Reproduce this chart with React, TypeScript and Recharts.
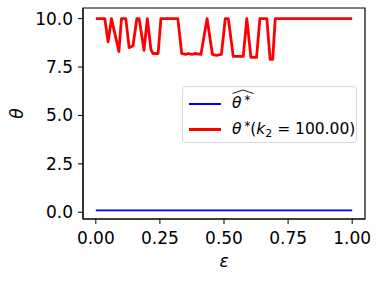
import React from "react";
import { LineChart, Line, XAxis, YAxis, ReferenceArea, Label } from "recharts";

// epsilon grid and estimated theta* values (k2 = 100)
const redEps = [
  0, 0.035, 0.048, 0.061, 0.09, 0.1, 0.117, 0.13, 0.145, 0.16, 0.169, 0.188, 0.201, 0.215, 0.223,
  0.243, 0.254, 0.32, 0.335, 0.35, 0.36, 0.375, 0.385, 0.41, 0.434, 0.455, 0.47, 0.49, 0.505,
  0.517, 0.536, 0.575, 0.589, 0.605, 0.627, 0.64, 0.667, 0.68, 0.69, 0.7, 1,
];
const redTheta = [
  10, 10, 8.8, 10, 8.3, 10, 10, 8.5, 8.6, 10, 10, 8.36, 10, 8.4, 8.2,
  8.2, 10, 10, 8.2, 8.15, 8.2, 8.15, 8.2, 8.15, 10, 8.15, 8.1, 8.15, 10,
  10, 8.05, 8.05, 10, 8.0, 8.0, 10, 10, 7.9, 7.9, 10, 10,
];

// estimated theta hat
const blueEps = [0, 0.25, 0.5, 0.75, 1];
const blueTheta = [0.1, 0.1, 0.1, 0.1, 0.1];

const xTicks = [0, 0.25, 0.5, 0.75, 1];
const yTicks = [0, 2.5, 5, 7.5, 10];

const redData = redEps.map((eps, i) => ({ eps, theta: redTheta[i] }));
const blueData = blueEps.map((eps, i) => ({ eps, theta: blueTheta[i] }));

const FONT = "'DejaVu Sans', sans-serif";

const LegendBox = () => (
  <div
    style={{
      position: "absolute",
      left: 182,
      top: 86,
      width: 173,
      height: 55,
      border: "1px solid #d6d6d6",
      borderRadius: 4,
      background: "rgba(255,255,255,0.8)",
      fontFamily: FONT,
      fontSize: 15.5,
      color: "#000",
    }}
  >
    <div style={{ position: "absolute", left: 6, top: 16, width: 32, height: 2, background: "#0000ff" }} />
    <div style={{ position: "absolute", left: 49, top: 7, lineHeight: "18px", whiteSpace: "nowrap" }}>
      <span style={{ position: "relative", display: "inline-block" }}>
        <svg width={22} height={5} style={{ position: "absolute", left: 0, top: -5 }}>
          <path d="M0.5 4.5 L11 1 L21.5 4.5" stroke="#000" strokeWidth={0.9} fill="none" />
        </svg>
        <i>θ</i>
        <span style={{ fontSize: "0.75em", position: "relative", top: "-0.35em", marginLeft: 3 }}>*</span>
      </span>
    </div>
    <div style={{ position: "absolute", left: 6, top: 41, width: 32, height: 3, background: "#ff0000" }} />
    <div style={{ position: "absolute", left: 49, top: 33, lineHeight: "18px", whiteSpace: "nowrap" }}>
      <i>θ</i>
      <span style={{ fontSize: "0.75em", position: "relative", top: "-0.35em", marginLeft: 3 }}>*</span>
      (<i>k</i>
      <span style={{ fontSize: "0.7em", position: "relative", top: "0.25em" }}>2</span> = 100.00)
    </div>
  </div>
);

const App: React.FC = () => {
  return (
    <div style={{ position: "absolute", left: 0, top: 0, width: 382, height: 281, background: "#fff" }}>
      <LineChart width={382} height={281} margin={{ top: 8, right: 17, left: 0, bottom: 0 }}>
        <XAxis
          dataKey="eps"
          type="number"
          domain={[-0.05, 1.05]}
          ticks={xTicks}
          tickFormatter={(v: number) => v.toFixed(2)}
          allowDataOverflow
          height={62}
          stroke="#000"
          tickSize={5}
          tickMargin={8}
          tick={{ fill: "#000", fontSize: 17, fontFamily: FONT }}
        >
          <Label
            content={({ viewBox }: any) => (
              <text
                x={viewBox.x + viewBox.width / 2}
                y={267}
                textAnchor="middle"
                fontFamily={FONT}
                fontStyle="italic"
                fontSize={17}
                fill="#000"
              >
                ε
              </text>
            )}
          />
        </XAxis>
        <YAxis
          type="number"
          domain={[-0.35, 10.55]}
          ticks={yTicks}
          tickFormatter={(v: number) => v.toFixed(1)}
          allowDataOverflow
          width={83}
          stroke="#000"
          tickSize={5}
          tickMargin={5}
          tick={{ fill: "#000", fontSize: 17, fontFamily: FONT }}
        >
          <Label
            content={({ viewBox }: any) => {
              const cy = viewBox.y + viewBox.height / 2;
              return (
                <text
                  x={17}
                  y={cy}
                  transform={`rotate(-90 17 ${cy})`}
                  textAnchor="middle"
                  dominantBaseline="central"
                  fontFamily={FONT}
                  fontStyle="italic"
                  fontSize={17}
                  fill="#000"
                >
                  θ
                </text>
              );
            }}
          />
        </YAxis>
        <ReferenceArea
          x1={-0.05}
          x2={1.05}
          y1={-0.35}
          y2={10.55}
          fill="none"
          fillOpacity={0}
          stroke="#000"
          strokeWidth={1.2}
          ifOverflow="visible"
        />
        <Line
          data={blueData}
          dataKey="theta"
          name="theta hat"
          stroke="#0000ff"
          strokeWidth={1.8}
          dot={false}
          isAnimationActive={false}
        />
        <Line
          data={redData}
          dataKey="theta"
          name="theta star"
          stroke="#ff0000"
          strokeWidth={2.8}
          strokeLinejoin="round"
          dot={false}
          isAnimationActive={false}
        />
      </LineChart>
      <LegendBox />
    </div>
  );
};

export default App;
